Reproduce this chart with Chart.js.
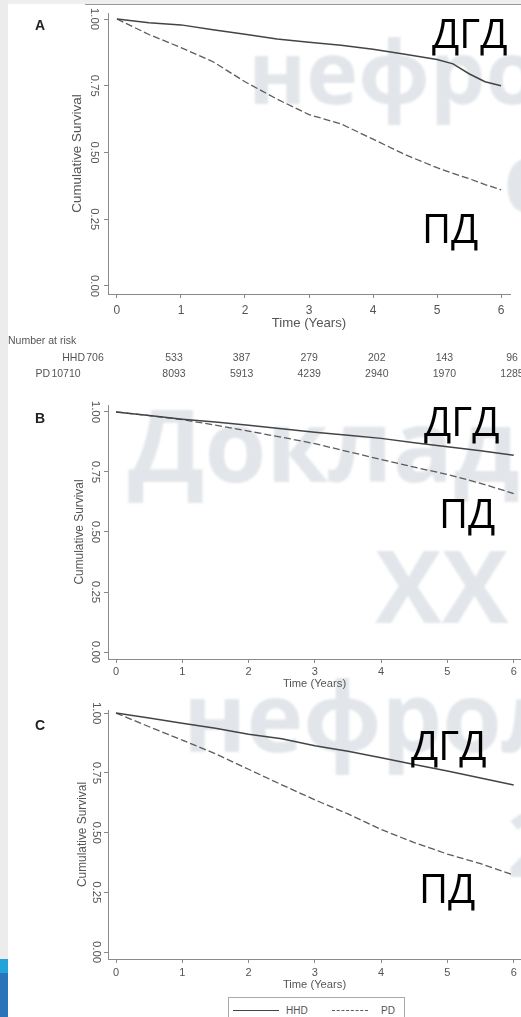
<!DOCTYPE html>
<html lang="ru">
<head>
<meta charset="UTF-8">
<title>Cumulative Survival HHD vs PD</title>
<script src="https://cdn.jsdelivr.net/npm/chart.js@4"></script>
<style>
  html, body { margin: 0; padding: 0; background: #fff; }
  #page { position: relative; width: 521px; height: 1017px; overflow: hidden; background: #fff;
          font-family: "Liberation Sans", Arial, sans-serif; }
  canvas { position: absolute; left: 0; z-index: 1; }
  .wm { position: absolute; font-family: "Open Sans", sans-serif; font-weight: 700; color: #e2e6ea;
        line-height: 1; white-space: nowrap; z-index: 0; filter: blur(1px); }
  .big { position: absolute; font-family: "Open Sans", sans-serif; font-size: 40px; line-height: 1;
         color: #000; z-index: 2; white-space: nowrap; }
  .panel { position: absolute; left: 35px; font-weight: bold; font-size: 14px; line-height: 1; color: #222; z-index: 2; }
  .risk { position: absolute; font-size: 10.5px; line-height: 1; color: #555; white-space: nowrap; z-index: 2; }
  #legend { position: absolute; left: 228px; top: 997px; width: 175px; height: 30px; border: 1px solid #aaa;
            background: #fff; z-index: 2; }
  .lg-line { position: absolute; top: 12px; height: 0; }
  .lg-text { position: absolute; top: 8px; font-size: 10px; line-height: 1; color: #555; }
</style>
</head>
<body>
<div id="page">
  <!-- slide frame bits -->
  <div style="position:absolute;left:0;top:0;width:521px;height:4px;background:#efefef;"></div>
  <div style="position:absolute;left:85px;top:4px;width:436px;height:1px;background:#999;"></div>
  <div style="position:absolute;left:0;top:0;width:8px;height:1017px;background:#ececec;"></div>
  <div style="position:absolute;left:0;top:959px;width:8px;height:14px;background:#22a3dc;"></div>
  <div style="position:absolute;left:0;top:973px;width:8px;height:44px;background:#2b74b9;"></div>

  <!-- watermark -->
  <div class="wm" style="left:248px;top:26px;font-size:88px;">нефрология</div>
  <div class="wm" style="left:503px;top:124px;font-size:100px;">с</div>
  <div class="wm" style="left:128px;top:393px;font-size:100px;">Доклад</div>
  <div class="wm" style="left:375px;top:534px;font-size:100px;">XX</div>
  <div class="wm" style="left:183px;top:667px;font-size:96px;">нефрология</div>
  <div class="wm" style="left:507px;top:797px;font-size:90px;">2</div>

  <canvas id="chartA" width="521" height="335" style="top:0px;"></canvas>
  <canvas id="chartB" width="521" height="315" style="top:380px;"></canvas>
  <canvas id="chartC" width="521" height="327" style="top:690px;"></canvas>

  <div class="panel" style="top:18px;">A</div>
  <div class="panel" style="top:411px;">B</div>
  <div class="panel" style="top:718px;">C</div>

  <div class="big" style="left:432px;top:13px;">ДГД</div>
  <div class="big" style="left:422px;top:208px;">ПД</div>
  <div class="big" style="left:424px;top:401px;">ДГД</div>
  <div class="big" style="left:439px;top:493px;">ПД</div>
  <div class="big" style="left:411px;top:725px;">ДГД</div>
  <div class="big" style="left:419px;top:868px;">ПД</div>

  <div id="risk"></div>
  <div id="legend"></div>
</div>

<script>
// ---- data ----
const seriesNames = ['HHD', 'PD'];
const xTickValues = [0, 1, 2, 3, 4, 5, 6];
const yTickValues = [0, 0.25, 0.5, 0.75, 1];

// panel A
const yearsA = [0, 0.5, 1, 1.5, 2, 2.5, 3, 3.5, 4, 4.5, 5, 5.25, 5.5, 5.75, 6];
const hhdA = [1, 0.986, 0.978, 0.960, 0.943, 0.925, 0.913, 0.902, 0.887, 0.868, 0.848, 0.832, 0.795, 0.765, 0.750];
const pdA  = [1, 0.942, 0.893, 0.840, 0.765, 0.700, 0.642, 0.607, 0.550, 0.492, 0.443, 0.422, 0.402, 0.380, 0.360];

// panels B and C
const yearsBC = [0, 0.5, 1, 1.5, 2, 2.5, 3, 3.5, 4, 4.5, 5, 5.5, 6];
const hhdB = [1, 0.985, 0.970, 0.958, 0.945, 0.930, 0.915, 0.903, 0.890, 0.872, 0.855, 0.838, 0.820];
const pdB  = [1, 0.985, 0.968, 0.945, 0.920, 0.895, 0.868, 0.835, 0.802, 0.770, 0.740, 0.703, 0.660];
const hhdC = [1, 0.980, 0.958, 0.937, 0.912, 0.893, 0.863, 0.840, 0.813, 0.785, 0.758, 0.728, 0.699];
const pdC  = [1, 0.943, 0.887, 0.830, 0.765, 0.700, 0.637, 0.578, 0.513, 0.458, 0.410, 0.370, 0.322];

// number at risk (panel A)
const riskHHD = [706, 533, 387, 279, 202, 143, 96];
const riskPD  = [10710, 8093, 5913, 4239, 2940, 1970, 1285];

const axisGrey = '#8a8a8a';
const textGrey = '#555';

function survivalChart(id, years, hhd, pd, g) {
  return new Chart(document.getElementById(id), {
    type: 'line',
    data: {
      datasets: [
        { label: seriesNames[0], data: years.map((t, i) => ({ x: t, y: hhd[i] })),
          borderColor: '#444', borderWidth: 1.5, pointRadius: 0, tension: 0, fill: false },
        { label: seriesNames[1], data: years.map((t, i) => ({ x: t, y: pd[i] })),
          borderColor: '#5c5c5c', borderWidth: 1.3, borderDash: [7, 3], pointRadius: 0, tension: 0, fill: false }
      ]
    },
    options: {
      responsive: false,
      animation: false,
      events: [],
      layout: { padding: { left: 0, top: g.top, right: g.right, bottom: 0 } },
      plugins: { legend: { display: false }, tooltip: { enabled: false } },
      scales: {
        x: {
          type: 'linear', min: g.xMin, max: g.xMax,
          afterBuildTicks: s => { s.ticks = xTickValues.map(v => ({ value: v })); },
          afterFit: s => { s.height = g.H - g.bottom; },
          border: { display: true, color: axisGrey, width: 1 },
          grid: { drawOnChartArea: false, drawTicks: true, tickLength: 4, color: axisGrey },
          ticks: { padding: g.xPad, color: textGrey, autoSkip: false, maxRotation: 0,
                   font: { family: 'Liberation Sans', size: g.xTick }, callback: v => String(v) },
          title: { display: true, text: 'Time (Years)', color: textGrey,
                   font: { family: 'Liberation Sans', size: g.xTitle }, padding: { top: 0, bottom: g.xTitlePad } }
        },
        y: {
          type: 'linear', min: g.yMin, max: g.yMax,
          afterBuildTicks: s => { s.ticks = yTickValues.map(v => ({ value: v })); },
          afterFit: s => { s.width = 108; },
          border: { display: true, color: axisGrey, width: 1 },
          grid: { drawOnChartArea: false, drawTicks: true, tickLength: 4, color: axisGrey },
          ticks: { padding: g.yPad, color: textGrey, autoSkip: false, minRotation: -90, maxRotation: -90,
                   crossAlign: 'center', font: { family: 'Liberation Sans', size: g.yTick },
                   callback: v => Number(v).toFixed(2) },
          title: { display: true, text: 'Cumulative Survival', color: textGrey,
                   font: { family: 'Liberation Sans', size: g.yTitle }, padding: { top: g.yTitlePad, bottom: 0 } }
        }
      }
    }
  });
}

survivalChart('chartA', yearsA, hhdA, pdA, {
  H: 335, top: 13, right: 11, bottom: 294,
  xMin: -0.14, xMax: 6.14, yMin: -0.03, yMax: 1.0225,
  xTick: 12, xPad: 5, xTitle: 13.2, xTitlePad: 4,
  yTick: 11.3, yPad: -1, yTitle: 13.4, yTitlePad: 69
});
survivalChart('chartB', yearsBC, hhdB, pdB, {
  H: 315, top: 25, right: 0, bottom: 279,
  xMin: -0.121, xMax: 6.11, yMin: -0.029, yMax: 1.029,
  xTick: 11, xPad: 2, xTitle: 11.2, xTitlePad: 4,
  yTick: 11.5, yPad: -2.7, yTitle: 11.9, yTitlePad: 73
});
survivalChart('chartC', yearsBC, hhdC, pdC, {
  H: 327, top: 20, right: 0, bottom: 269,
  xMin: -0.121, xMax: 6.11, yMin: -0.029, yMax: 1.013,
  xTick: 11, xPad: 3, xTitle: 11.2, xTitlePad: 25,
  yTick: 11.5, yPad: -3.2, yTitle: 11.9, yTitlePad: 76
});

// number at risk table under panel A
const risk = document.getElementById('risk');
function addText(txt, left, top, align) {
  const d = document.createElement('div');
  d.className = 'risk';
  d.textContent = txt;
  d.style.top = top + 'px';
  d.style.left = left + 'px';
  if (align === 'center') d.style.transform = 'translateX(-50%)';
  if (align === 'right') d.style.transform = 'translateX(-100%)';
  risk.appendChild(d);
}
addText('Number at risk', 8, 335);
addText(seriesNames[0], 85, 352, 'right');
addText(seriesNames[1], 50, 368, 'right');
addText(String(riskHHD[0]), 95, 352, 'center');
addText(String(riskPD[0]), 66, 368, 'center');
for (let i = 1; i < riskHHD.length; i++) {
  const cx = 174 + 67.6 * (i - 1);
  addText(String(riskHHD[i]), cx, 352, 'center');
  addText(String(riskPD[i]), cx, 368, 'center');
}

// legend below panel C
const legend = document.getElementById('legend');
const legendItems = [
  { name: seriesNames[0], style: '1px solid #444', x0: 4, w: 46, tx: 57 },
  { name: seriesNames[1], style: '1px dashed #5c5c5c', x0: 103, w: 36, tx: 152 }
];
legendItems.forEach(it => {
  const l = document.createElement('div');
  l.className = 'lg-line';
  l.style.left = it.x0 + 'px';
  l.style.width = it.w + 'px';
  l.style.borderTop = it.style;
  legend.appendChild(l);
  const t = document.createElement('div');
  t.className = 'lg-text';
  t.style.left = it.tx + 'px';
  t.textContent = it.name;
  legend.appendChild(t);
});
</script>
</body>
</html>
